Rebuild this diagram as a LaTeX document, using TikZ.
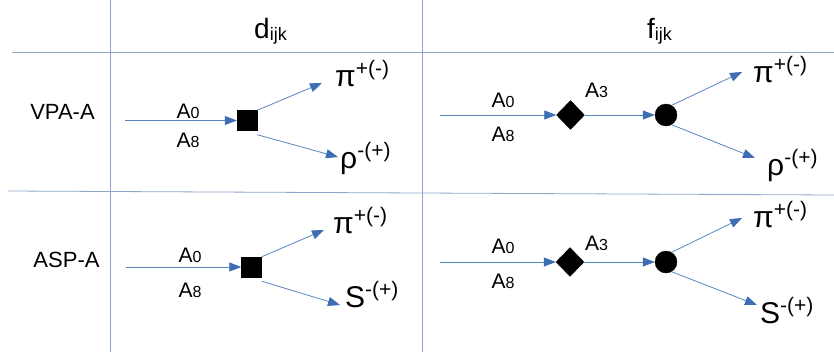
\documentclass[tikz,border=0pt]{standalone}
\usepackage{fontspec}
\setmainfont{Liberation Sans}
\usetikzlibrary{arrows.meta,shapes.geometric}
\definecolor{gridline}{HTML}{8FA6C9}
\definecolor{arrowline}{HTML}{5A86C0}
\definecolor{arrowhead}{HTML}{3D6DB2}
\newcommand\Asub[1]{{\fontsize{21}{21}\selectfont A}{\fontsize{16}{16}\selectfont #1}}
\newcommand\particle[2]{{\fontsize{30}{30}\selectfont #1}\raisebox{11pt}{\fontsize{21}{21}\selectfont #2}}
\newcommand\hdr[1]{{\fontsize{28}{28}\selectfont #1}\raisebox{-2pt}{\fontsize{18}{18}\selectfont ijk}}
\begin{document}
\begin{tikzpicture}[x=1pt,y=-1pt,
  sq/.style={rectangle, fill=black, draw=black, minimum size=20pt, inner sep=0},
  dia/.style={diamond, fill=black, draw=black, minimum width=28pt, minimum height=29pt, inner sep=0},
  dot/.style={circle, fill=black, draw=black, minimum size=22pt, inner sep=0},
  arr/.style={draw=arrowline, line width=0.8pt, -{Triangle[length=12pt,width=9pt,color=arrowhead]}},
  gridl/.style={draw=gridline, line width=0.8pt},
  lb/.style={inner sep=0, anchor=base},
  lbw/.style={inner sep=0, anchor=base west},
  rowlbl/.style={inner sep=0, font=\fontsize{22}{22}\selectfont}]
\useasboundingbox (0,0) rectangle (834,359);
% grid
\coordinate (v1t) at (110,0); \coordinate (v1b) at (110,352);
\coordinate (v2t) at (422,0); \coordinate (v2b) at (422,352);
\coordinate (h1l) at (12,52); \coordinate (h1r) at (834,52);
\coordinate (h2l) at (8,191); \coordinate (h2r) at (834,195);
\draw[gridl] (v1t) -- (v1b);
\draw[gridl] (v2t) -- (v2b);
\draw[gridl] (h1l) -- (h1r);
\draw[gridl] (h2l) -- (h2r);
% headers
\node[lbw] (hd) at (254,38) {\hdr{d}};
\node[lbw] (hf) at (647,38) {\hdr{f}};
% row labels
\node[rowlbl] (r1) at (62.5,111.5) {VPA-A};
\node[rowlbl] (r2) at (66.5,260) {ASP-A};
% ---- row 1, d
\coordinate (i1) at (125,120.5);
\node[sq] (s1) at (247,120.5) {};
\draw[arr] (i1) -- (s1.west);
\node[lb] (a01) at (188,118) {\Asub{0}};
\node[lb] (a81) at (188,147) {\Asub{8}};
\coordinate (e1u) at (322,83);
\coordinate (e1d) at (338,157);
\draw[arr] (s1.north east) -- (e1u);
\draw[arr] ([yshift=-4pt]s1.south east) -- (e1d);
\node[lbw] (p1) at (335,86) {\particle{π}{+(-)}};
\node[lbw] (q1) at (340,168) {\particle{ρ}{-(+)}};
% ---- row 1, f
\coordinate (i2) at (440,115);
\node[dia] (d1) at (570.5,115) {};
\node[dot] (c1) at (666,115) {};
\draw[arr] (i2) -- (d1.west);
\draw[arr] (d1.east) -- (c1.west);
\node[lb] (a02) at (503,107) {\Asub{0}};
\node[lb] (a82) at (503,141) {\Asub{8}};
\node[lbw] (a32) at (585,97) {\Asub{3}};
\coordinate (e2u) at (742,72);
\coordinate (e2d) at (755,158);
\draw[arr] (c1.60) -- (e2u);
\draw[arr] (c1.-60) -- (e2d);
\node[lbw] (p2) at (753,82) {\particle{π}{+(-)}};
\node[lbw] (q2) at (767,175) {\particle{ρ}{-(+)}};
% ---- row 2, d
\coordinate (i3) at (126,267);
\node[sq] (s2) at (251.5,267) {};
\draw[arr] (i3) -- (s2.west);
\node[lb] (a03) at (190,262) {\Asub{0}};
\node[lb] (a83) at (190,297) {\Asub{8}};
\coordinate (e3u) at (324,230);
\coordinate (e3d) at (340,305);
\draw[arr] (s2.north east) -- (e3u);
\draw[arr] ([yshift=-4pt]s2.south east) -- (e3d);
\node[lbw] (p3) at (333,233) {\particle{π}{+(-)}};
\node[lbw] (q3) at (345,307) {\particle{S}{-(+)}};
% ---- row 2, f
\coordinate (i4) at (440,262);
\node[dia] (d2) at (570,262) {};
\node[dot] (c2) at (666,262) {};
\draw[arr] (i4) -- (d2.west);
\draw[arr] (d2.east) -- (c2.west);
\node[lb] (a04) at (503,253) {\Asub{0}};
\node[lb] (a84) at (503,288) {\Asub{8}};
\node[lbw] (a34) at (585,250) {\Asub{3}};
\coordinate (e4u) at (742,218);
\coordinate (e4d) at (757,305);
\draw[arr] (c2.60) -- (e4u);
\draw[arr] (c2.-60) -- (e4d);
\node[lbw] (p4) at (753,227) {\particle{π}{+(-)}};
\node[lbw] (q4) at (760,323) {\particle{S}{-(+)}};
\end{tikzpicture}
\end{document}
